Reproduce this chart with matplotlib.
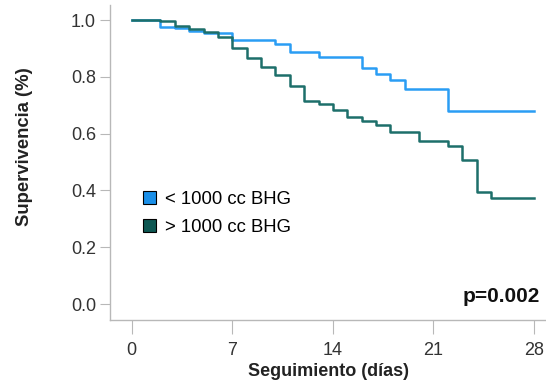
import numpy as np
import matplotlib.pyplot as plt
from matplotlib.patches import Patch

plt.rcParams['font.family'] = ['Liberation Sans', 'DejaVu Sans']

# Kaplan-Meier steps
t_low = [0, 2, 3, 4, 5, 7, 10, 11, 13, 16, 17, 18, 19, 22, 28]
s_low = [1.0, 0.977, 0.971, 0.962, 0.953, 0.930, 0.914, 0.886, 0.869,
         0.830, 0.810, 0.788, 0.759, 0.680, 0.680]

t_high = [0, 2, 3, 4, 5, 6, 7, 8, 9, 10, 11, 12, 13, 14, 15, 16, 17, 18,
          20, 22, 23, 24, 25, 28]
s_high = [1.0, 0.995, 0.979, 0.967, 0.957, 0.939, 0.903, 0.865, 0.833,
          0.806, 0.768, 0.715, 0.703, 0.683, 0.657, 0.644, 0.630, 0.607,
          0.574, 0.557, 0.507, 0.395, 0.372, 0.372]

labels = ["< 1000 cc BHG", "> 1000 cc BHG"]
line_colors = ["#2a9df4", "#1d6f6a"]
patch_colors = ["#1a8fe8", "#0d5752"]
x_ticks = [0, 7, 14, 21, 28]
y_ticks = [0.0, 0.2, 0.4, 0.6, 0.8, 1.0]

fig = plt.figure(figsize=(5.46, 3.83), dpi=100)
ax = fig.add_axes([110 / 546, 1 - 320 / 383, 436 / 546, 315 / 383])

ax.step(t_low, s_low, where="post", color=line_colors[0], lw=1.8)
ax.step(t_high, s_high, where="post", color=line_colors[1], lw=1.8)

ax.set_xlim(-1.51, 28.83)
ax.set_ylim(-0.056, 1.053)
ax.set_xticks(x_ticks)
ax.set_yticks(y_ticks)
ax.set_yticklabels([f"{v:.1f}" for v in y_ticks])

for side in ["top", "right"]:
    ax.spines[side].set_visible(False)
for side in ["left", "bottom"]:
    ax.spines[side].set_color("#b8b8b8")
    ax.spines[side].set_linewidth(1.0)
ax.tick_params(axis="both", colors="#b8b8b8", labelcolor="#333333", labelsize=13)
ax.tick_params(axis="y", length=7, pad=3)
ax.tick_params(axis="x", length=10, pad=6)

ax.set_xlabel("Seguimiento (días)", fontsize=13, fontweight="bold", color="#222222", labelpad=3)
ax.set_ylabel("Supervivencia (%)", fontsize=13.3, fontweight="bold", color="#222222")
ax.yaxis.set_label_coords(-0.177, 0.55)

handles = [Patch(facecolor=c, edgecolor="black", linewidth=0.8) for c in patch_colors]
ax.legend(handles, labels, loc="upper left", bbox_to_anchor=(0.0757, 0.41),
          frameon=False, fontsize=13.3, handlelength=0.7, handleheight=0.7,
          handletextpad=0.5, labelspacing=0.62, borderaxespad=0, borderpad=0)

ax.text(0.986, 0.076, "p=0.002", transform=ax.transAxes, ha="right", va="center",
        fontsize=15, fontweight="bold", color="#111111")

fig.savefig("out.png", dpi=100)
